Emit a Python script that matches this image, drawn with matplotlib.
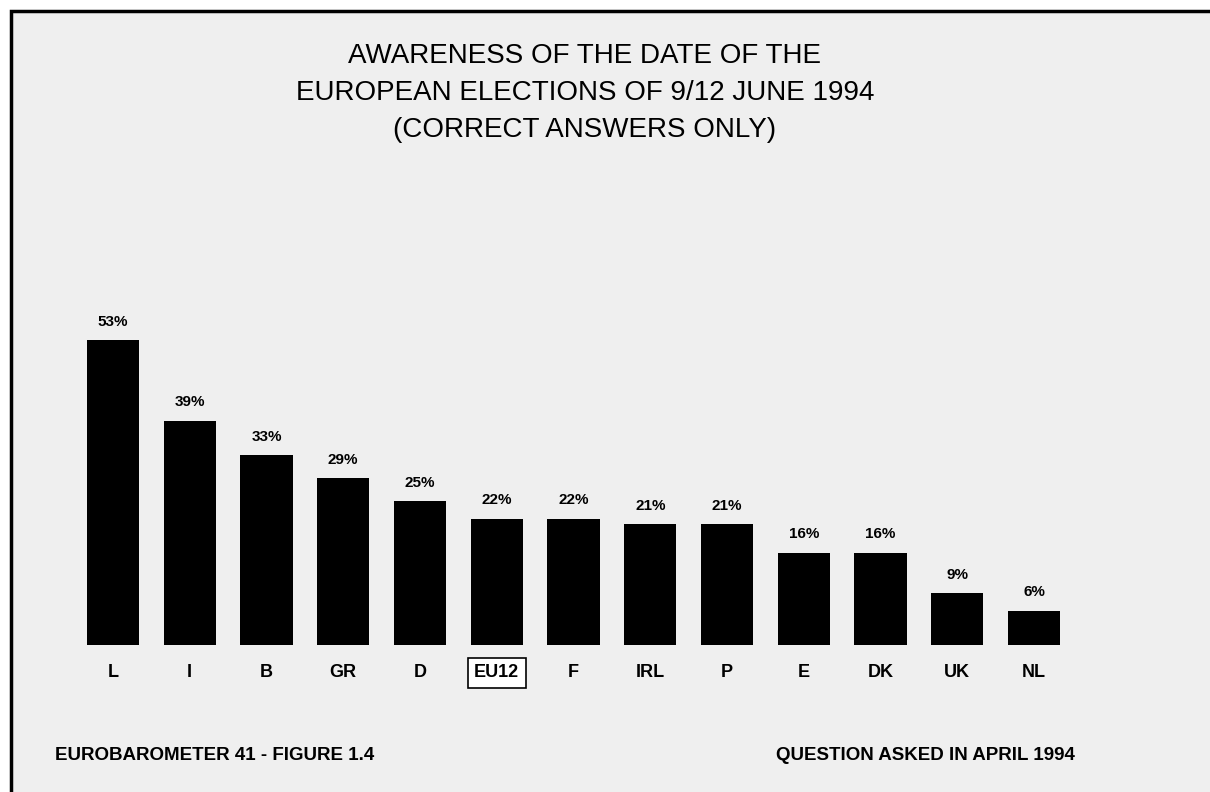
import matplotlib.pyplot as plt
from matplotlib.patches import Rectangle

countries = ["L", "I", "B", "GR", "D", "EU12", "F", "IRL", "P", "E", "DK", "UK", "NL"]
correct_pct = [53, 39, 33, 29, 25, 22, 22, 21, 21, 16, 16, 9, 6]

plt.rcParams['font.family'] = ['Liberation Sans', 'DejaVu Sans']

fig = plt.figure(figsize=(12.1, 7.92), dpi=100, facecolor='white')

# framed panel, light grey inside
fig.patches.append(Rectangle((11 / 1210, -0.1), 1.2, (792 - 11) / 792 + 0.1,
                             transform=fig.transFigure, facecolor='#efefef',
                             edgecolor='black', linewidth=2.5, zorder=-5))

ax = fig.add_axes([36.25 / 1210, 147 / 792, 1074.5 / 1210, 345 / 792])
ax.set_facecolor('none')
ax.set_zorder(2)

x = range(len(countries))
ax.bar(x, correct_pct, width=0.68, color='black')
for xi, v in zip(x, correct_pct):
    ax.text(xi, v + 2.0, f"{v}%", ha='center', va='bottom', fontsize=11,
            fontweight='bold')

ax.set_xlim(-1, 13)
ax.set_ylim(0, 60)
ax.set_xticks(list(x))
ax.set_xticklabels(countries, fontsize=13, fontweight='bold')
ax.tick_params(axis='x', length=0, pad=14)
ax.set_yticks([])
for s in ax.spines.values():
    s.set_visible(False)

for lbl in ax.get_xticklabels():
    if lbl.get_text() == "EU12":
        lbl.set_bbox(dict(boxstyle='square,pad=0.35', facecolor='white',
                          edgecolor='black', linewidth=1.2))

fig.text(585 / 1210, 1 - 93 / 792,
         "AWARENESS OF THE DATE OF THE\nEUROPEAN ELECTIONS OF 9/12 JUNE 1994\n(CORRECT ANSWERS ONLY)",
         ha='center', va='center', fontsize=20, linespacing=1.55)

fig.text(55 / 1210, 1 - 755 / 792, "EUROBAROMETER 41 - FIGURE 1.4",
         ha='left', va='center', fontsize=13.5, fontweight='bold')
fig.text(1075 / 1210, 1 - 755 / 792, "QUESTION ASKED IN APRIL 1994",
         ha='right', va='center', fontsize=13.5, fontweight='bold')

fig.savefig("out.png", dpi=100, facecolor=fig.get_facecolor())
